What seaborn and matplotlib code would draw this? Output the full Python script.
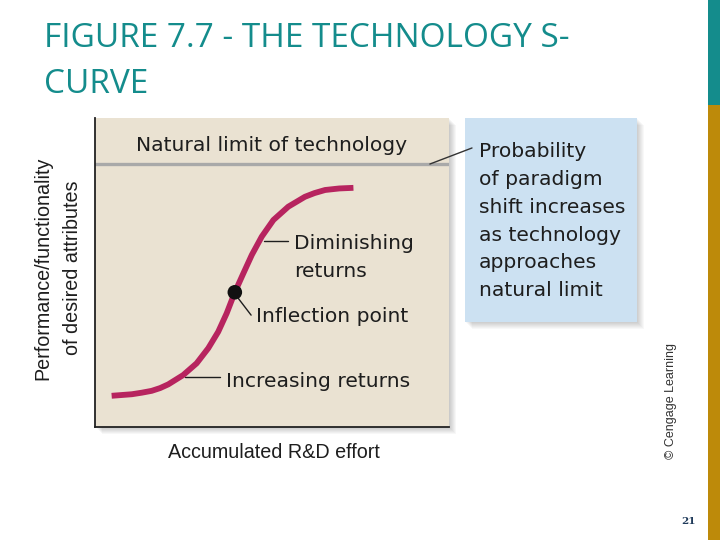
import numpy as np
import matplotlib
matplotlib.use("Agg")
import matplotlib.pyplot as plt
from matplotlib.patches import Rectangle
import seaborn as sns

# S-curve (axes units 0-100)
curve_x = [4.7, 10.4, 13.2, 16.0, 18.4, 20.7, 24.9, 28.7, 32.0, 34.8, 37.2,
           39.5, 41.9, 44.3, 47.1, 50.4, 54.6, 59.3, 62.0, 65.0, 69.0, 73.0]
curve_y = [10.1, 10.6, 11.1, 11.7, 12.6, 13.8, 16.8, 20.6, 25.5, 30.8, 36.8,
           43.6, 49.7, 55.7, 61.6, 67.0, 71.3, 74.5, 75.7, 76.7, 77.2, 77.4]
inflection = (39.5, 43.6)
limit_y = 85.1

title_lines = ["FIGURE 7.7 - THE TECHNOLOGY S-", "CURVE"]
limit_label = "Natural limit of technology"
note_lines = ["Probability", "of paradigm", "shift increases",
              "as technology", "approaches", "natural limit"]
x_label = "Accumulated R&D effort"
y_lines = ["Performance/functionality", "of desired attributes"]

W, H = 720, 540
BG = "#EAE2D2"
CURVE = "#B7245F"
BLUE = "#CCE1F2"
TEAL = "#148C8C"
GOLD = "#BD8A0A"
TXT = "#1E1E1E"

sns.set_style("white")
plt.rcParams["font.family"] = ["DejaVu Sans"]

fig = plt.figure(figsize=(7.2, 5.4), dpi=100)


def fr(x0, y0, x1, y1):
    # pixel box (top-left origin) -> figure fraction
    return (x0 / W, 1 - y1 / H, (x1 - x0) / W, (y1 - y0) / H)


def add_rect(x0, y0, x1, y1, color, alpha=1.0, z=0):
    l, b, w, h = fr(x0, y0, x1, y1)
    fig.patches.append(Rectangle((l, b), w, h, transform=fig.transFigure,
                                 facecolor=color, edgecolor="none",
                                 alpha=alpha, zorder=z))


def ftext(px, py, s, **kw):
    return fig.text(px / W, 1 - py / H, s, **kw)


# side bars
add_rect(708, 0, 720, 105, TEAL)
add_rect(708, 105, 720, 540, GOLD)

# soft shadows for the panel and the note box
for k in range(1, 8):
    add_rect(95 + k, 118 + k, 449 + k, 427 + k, "#000000", alpha=0.03, z=0)
    add_rect(465 + k, 118 + k, 637 + k, 322 + k, "#000000", alpha=0.028, z=0)

# note box
add_rect(465, 118, 637, 322, BLUE, z=1)

ax = fig.add_axes(fr(95, 118, 449, 427))
ax.set_facecolor(BG)
ax.set_zorder(2)
ax.set_xlim(0, 100)
ax.set_ylim(0, 100)

ax.axhline(limit_y, color="#A9A9A9", lw=2.4, zorder=1)

sns.lineplot(x=curve_x, y=curve_y, sort=False, color=CURVE, lw=4.2,
             ax=ax, zorder=3, solid_joinstyle="round", solid_capstyle="butt")
sns.scatterplot(x=[inflection[0]], y=[inflection[1]], color="#111111",
                s=110, edgecolor="none", ax=ax, zorder=4)

ax.set_xticks([])
ax.set_yticks([])
for s in ["top", "right"]:
    ax.spines[s].set_visible(False)
for s in ["left", "bottom"]:
    ax.spines[s].set_color("#222222")
    ax.spines[s].set_linewidth(1.3)

# leaders
ax.plot([47.8, 54.4], [60.3, 60.3], color=TXT, lw=1.0, zorder=2)
ax.plot([40.5, 44.1], [41.6, 36.2], color=TXT, lw=1.0, zorder=2)
ax.plot([25.4, 35.3], [16.3, 16.3], color=TXT, lw=1.0, zorder=2)
ax.plot([94.6, 106.5], [85.1, 90.3], color="#333333", lw=1.0,
        clip_on=False, zorder=5)

fs = 14.6
lab = dict(fontsize=fs, color=TXT, va="baseline", zorder=6)
ftext(272, 151, limit_label, ha="center", **lab)
ftext(294, 249, "Diminishing", ha="left", **lab)
ftext(294, 277, "returns", ha="left", **lab)
ftext(256, 322, "Inflection point", ha="left", **lab)
ftext(226, 387, "Increasing returns", ha="left", **lab)

for i, line in enumerate(note_lines):
    ftext(479, 157.3 + i * 27.8, line, ha="left", **lab)

axis_font = ["Liberation Sans", "DejaVu Sans"]
ftext(273.5, 458, x_label, ha="center", va="baseline", fontsize=14.2,
      color=TXT, family=axis_font)
ftext(43, 268, y_lines[0], ha="center", va="center", rotation=90,
      fontsize=14.2, color=TXT, family=axis_font)
ftext(72, 268, y_lines[1], ha="center", va="center", rotation=90,
      fontsize=14.2, color=TXT, family=axis_font)

# title
for line, yb in zip(title_lines, [47, 93]):
    ftext(44, yb, line, ha="left", va="baseline", fontsize=24, color=TEAL,
          family=["Open Sans", "DejaVu Sans"])

ftext(671, 401, "\u00a9 Cengage Learning", rotation=90, ha="center",
      va="center", fontsize=9, color="#333333",
      family=["Liberation Sans", "DejaVu Sans"])
ftext(688, 521, "21", ha="center", va="center", fontsize=7.5,
      fontweight="bold", color="#1F3A5A", family=["DejaVu Serif"])

fig.savefig("out.png", dpi=100)
